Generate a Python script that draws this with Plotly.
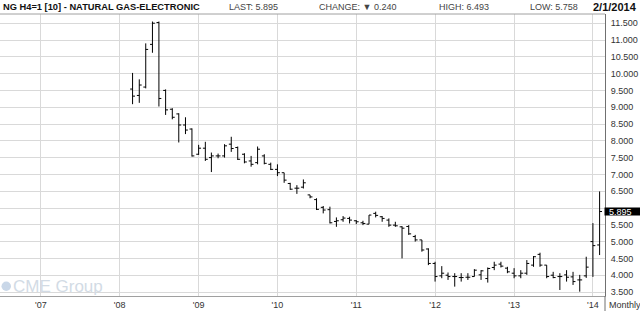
import plotly.graph_objects as go

months = ["2008-03","2008-04","2008-05","2008-06","2008-07","2008-08","2008-09","2008-10","2008-11","2008-12",
"2009-01","2009-02","2009-03","2009-04","2009-05","2009-06","2009-07","2009-08","2009-09","2009-10","2009-11","2009-12",
"2010-01","2010-02","2010-03","2010-04","2010-05","2010-06","2010-07","2010-08","2010-09","2010-10","2010-11","2010-12",
"2011-01","2011-02","2011-03","2011-04","2011-05","2011-06","2011-07","2011-08","2011-09","2011-10","2011-11","2011-12",
"2012-01","2012-02","2012-03","2012-04","2012-05","2012-06","2012-07","2012-08","2012-09","2012-10","2012-11","2012-12",
"2013-01","2013-02","2013-03","2013-04","2013-05","2013-06","2013-07","2013-08","2013-09","2013-10","2013-11","2013-12",
"2014-01","2014-02"]

open_ = [9.54,9.35,9.60,10.87,11.52,9.50,8.94,8.80,8.47,8.35,
7.60,7.78,7.50,7.55,7.55,7.90,7.80,7.60,7.40,7.35,7.55,7.30,
7.15,7.05,6.73,6.59,6.62,6.39,6.25,6.02,5.95,5.60,5.65,5.69,
5.62,5.56,5.52,5.84,5.74,5.64,5.49,5.44,5.45,5.15,5.05,4.78,
4.35,3.98,4.00,3.96,3.93,3.94,3.96,4.01,3.90,4.23,4.33,4.21,
4.06,3.98,4.06,4.30,4.62,4.30,4.00,3.96,4.01,3.95,3.86,3.98,
5.00,4.90]
high = [10.02,9.83,10.90,11.55,11.55,9.53,8.97,8.82,8.70,8.37,
7.88,7.97,7.65,7.62,7.90,8.12,7.83,7.63,7.55,7.83,7.60,7.35,
7.30,7.05,6.75,6.68,6.85,6.39,6.29,6.06,6.04,5.72,5.76,5.74,
5.64,5.62,5.79,5.89,5.76,5.69,5.59,5.46,5.49,5.20,5.05,4.80,
4.40,4.27,4.08,4.06,4.06,4.06,4.18,4.15,4.23,4.40,4.40,4.25,
4.21,4.15,4.45,4.57,4.67,4.30,4.10,4.06,4.15,4.10,4.01,4.55,
5.55,6.493]
low = [9.09,9.13,9.56,10.62,9.02,8.77,8.64,7.95,8.20,7.53,
7.58,7.40,7.07,7.48,7.50,7.67,7.43,7.33,7.23,7.30,7.30,7.13,
6.95,6.75,6.54,6.42,6.58,6.29,5.94,5.84,5.54,5.44,5.59,5.54,
5.52,5.49,5.52,5.72,5.59,5.44,5.44,4.50,5.20,5.00,4.70,4.30,
3.81,3.91,3.86,3.66,3.81,3.86,3.96,3.86,3.78,4.15,4.23,4.06,
3.91,3.91,4.01,4.25,4.25,3.91,3.91,3.56,3.81,3.71,3.51,3.92,
3.95,4.60]
close = [9.33,9.66,10.72,11.50,9.26,8.92,8.70,8.47,8.32,7.55,
7.78,7.45,7.55,7.55,7.85,7.77,7.45,7.37,7.30,7.75,7.33,7.15,
7.05,6.83,6.56,6.59,6.75,6.33,5.96,5.94,5.56,5.62,5.70,5.64,
5.59,5.54,5.79,5.78,5.69,5.49,5.47,5.40,5.23,5.05,4.75,4.35,
3.96,4.06,3.96,3.96,3.93,3.94,4.15,4.13,4.20,4.30,4.27,4.10,
3.98,4.06,4.35,4.55,4.30,3.96,3.93,3.96,3.94,3.81,3.86,4.24,
4.88,5.895]

last_price = 5.895
year_ticks = ["2007-01-01","2008-01-01","2009-01-01","2010-01-01","2011-01-01","2012-01-01","2013-01-01","2014-01-01"]
year_labels = ["'07","'08","'09","'10","'11","'12","'13","'14"]
price_ticks = [3.5 + 0.5 * i for i in range(17)]
# the 6.000 label sits under the last-price marker in the reference
price_labels = ["" if abs(v - 6.0) < 1e-9 else "%.3f" % v for v in price_ticks]

W, H = 640, 311
L, R, T, B = 0, 35, 14, 15
PW, PH = W - L - R, H - T - B
Y0, Y1 = 3.381, 11.774

def px(xp):
    return (xp - L) / PW

def py(yp):
    return (H - B - yp) / PH

fig = go.Figure()
fig.add_trace(go.Ohlc(
    x=[m + "-01" for m in months], open=open_, high=high, low=low, close=close,
    increasing=dict(line=dict(color="black", width=1)),
    decreasing=dict(line=dict(color="black", width=1)),
    tickwidth=0.4, hoverinfo="skip", showlegend=False,
))

fig.update_layout(
    width=W, height=H, margin=dict(l=L, r=R, t=T, b=B),
    paper_bgcolor="white", plot_bgcolor="white",
    font=dict(family="Arial, Liberation Sans, sans-serif", size=9, color="#333"),
    xaxis=dict(type="date", range=["2006-06-26", "2014-02-26"],
               tickvals=year_ticks, ticktext=year_labels,
               showgrid=True, gridcolor="#d9d9d9", gridwidth=1,
               showline=True, linecolor="#a0a0a0", linewidth=1,
               ticks="", zeroline=False, rangeslider=dict(visible=False),
               tickfont=dict(size=9, color="#333")),
    yaxis=dict(side="right", range=[Y0, Y1],
               tickvals=price_ticks, ticktext=price_labels,
               showgrid=True, gridcolor="#d9d9d9", gridwidth=1,
               showline=True, linecolor="#707070", linewidth=1,
               ticks="", zeroline=False, ticklabelstandoff=3,
               tickfont=dict(size=9, color="#333")),
)

# top border and extended right axis line
fig.add_shape(type="line", xref="paper", yref="paper", x0=0, x1=1, y0=1, y1=1,
              line=dict(color="#a0a0a0", width=1))
fig.add_shape(type="line", xref="paper", yref="paper", x0=1, x1=1, y0=0, y1=py(311),
              line=dict(color="#707070", width=1))

hy = py(7)
def head(text, x, anchor="left", size=9, color="#444"):
    fig.add_annotation(text=text, xref="paper", yref="paper", x=px(x), y=hy,
                       xanchor=anchor, yanchor="middle", showarrow=False,
                       font=dict(size=size, color=color))

head("<b>NG H4=1 [10] - NATURAL GAS-ELECTRONIC</b>", 1, size=9.3, color="#111")
head("LAST: 5.895", 227)
head("CHANGE: \u25bc 0.240", 317)
head("HIGH: 6.493", 437)
head("LOW: 5.758", 528)
head("<b>2/1/2014</b>", 639, anchor="right", size=11, color="#111")

# last price marker
half = 4.0 / (PH / (Y1 - Y0))
fig.add_shape(type="rect", xref="paper", yref="y", x0=px(604.5), x1=px(641),
              y0=last_price - half, y1=last_price + half,
              fillcolor="black", line=dict(width=0))
fig.add_annotation(text="%.3f" % last_price, xref="paper", yref="y", x=px(607), y=last_price,
                   xanchor="left", yanchor="middle", showarrow=False,
                   font=dict(size=9, color="white"))

# period label
fig.add_annotation(text="Monthly", xref="paper", yref="paper", x=px(607), y=py(305),
                   xanchor="left", yanchor="middle", showarrow=False,
                   font=dict(size=9, color="#333"))

# watermark logo
fig.add_shape(type="circle", xref="paper", yref="paper",
              x0=px(1.5), x1=px(11), y0=py(291), y1=py(281.5),
              fillcolor="#c9d7e8", line=dict(color="#c9d7e8", width=0), layer="below")
fig.add_annotation(text="CME Group", xref="paper", yref="paper", x=px(11), y=py(286.5),
                   xanchor="left", yanchor="middle", showarrow=False,
                   font=dict(size=17, color="#d2dbe5"))

fig.write_html("out.html")
